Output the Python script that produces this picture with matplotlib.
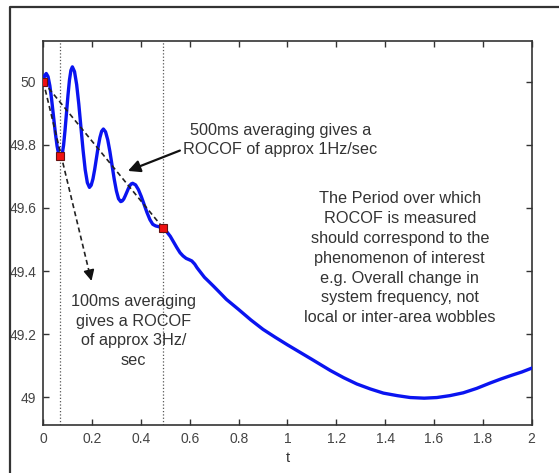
import matplotlib.pyplot as plt
from matplotlib.lines import Line2D

plt.rcParams['font.family'] = ['Liberation Sans', 'DejaVu Sans']

# frequency trace
t = [0.0, 0.006, 0.012, 0.0194, 0.0268, 0.0341, 0.0415, 0.0489, 0.0563,
     0.0636, 0.071, 0.077, 0.083, 0.089, 0.095, 0.101, 0.107, 0.113, 0.119,
     0.1278, 0.1365, 0.1453, 0.154, 0.1628, 0.1715, 0.1803, 0.189, 0.1961,
     0.2033, 0.2104, 0.2175, 0.2246, 0.2318, 0.2389, 0.246, 0.2549, 0.2638,
     0.2726, 0.2815, 0.2904, 0.2993, 0.3081, 0.317, 0.3231, 0.3293, 0.3354,
     0.3415, 0.3476, 0.3538, 0.3599, 0.366, 0.3778, 0.3895, 0.4013, 0.413,
     0.4248, 0.4365, 0.4483, 0.46, 0.475, 0.49, 0.505, 0.52, 0.535, 0.547,
     0.56, 0.572, 0.585, 0.597, 0.608, 0.62, 0.63, 0.645, 0.66, 0.68, 0.697,
     0.725, 0.75, 0.775, 0.80, 0.85, 0.90, 0.95, 1.0, 1.05, 1.1, 1.175, 1.23,
     1.284, 1.34, 1.393, 1.45, 1.503, 1.56, 1.612, 1.665, 1.72, 1.775, 1.83,
     1.875, 1.92, 1.96, 2.0]
freq = [50.005, 50.02, 50.026, 50.016, 49.987, 49.943, 49.8915, 49.84,
        49.796, 49.767, 49.757, 49.768, 49.799, 49.847, 49.902, 49.957,
        50.005, 50.036, 50.047, 50.032, 49.991, 49.929, 49.856, 49.783,
        49.721, 49.68, 49.665, 49.672, 49.692, 49.722, 49.7575, 49.793,
        49.823, 49.843, 49.85, 49.841, 49.816, 49.779, 49.735, 49.691,
        49.654, 49.629, 49.62, 49.622, 49.628, 49.638, 49.649, 49.66, 49.67,
        49.676, 49.678, 49.673, 49.658, 49.636, 49.6105, 49.585, 49.563,
        49.548, 49.543, 49.54, 49.536, 49.525, 49.51, 49.49, 49.474, 49.458,
        49.448, 49.44, 49.436, 49.432, 49.422, 49.41, 49.395, 49.38, 49.365,
        49.352, 49.33, 49.31, 49.294, 49.278, 49.245, 49.215, 49.19, 49.166,
        49.143, 49.12, 49.085, 49.062, 49.042, 49.026, 49.013, 49.005, 48.999,
        48.997, 48.999, 49.005, 49.014, 49.028, 49.045, 49.058, 49.07, 49.08,
        49.092]

# averaging points (t, f)
mark_t = [0.0, 0.07, 0.49]
mark_f = [50.0, 49.765, 49.537]

xticks = [0, 0.2, 0.4, 0.6, 0.8, 1, 1.2, 1.4, 1.6, 1.8, 2]
xticklabels = ['0', '0.2', '0.4', '0.6', '0.8', '1', '1.2', '1.4', '1.6', '1.8', '2']
yticks = [49, 49.2, 49.4, 49.6, 49.8, 50]
yticklabels = ['49', '49.2', '49.4', '49.6', '49.8', '50']

fig = plt.figure(figsize=(5.59, 4.73), dpi=100)
ax = fig.add_axes([0.0775, 0.1015, 0.8735, 0.8125])

# outer frame of the original figure
fig.add_artist(Line2D([0.018, 0.018, 1.0], [0.0, 0.985, 0.985],
                      transform=fig.transFigure, color='#333333', lw=1.6))

ax.plot(t, freq, color='#0a14f0', lw=2.4, zorder=3)

for xv in mark_t[1:]:
    ax.axvline(xv, color='#555555', ls=':', lw=0.9, zorder=1)

# 500ms secant
ax.plot([mark_t[0], mark_t[2]], [mark_f[0], mark_f[2]], color='#222222',
        ls='--', lw=1.2, dashes=(3, 2), zorder=4)
# 100ms secant, extended to an arrow
ax.plot([0.0, 0.19], [50.0, 49.39], color='#222222', ls='--', lw=1.2,
        dashes=(3, 2), zorder=4)
ax.annotate('', xy=(0.2, 49.36), xytext=(0.19, 49.392),
            arrowprops=dict(arrowstyle='-|>', color='#111111', lw=1.2,
                            mutation_scale=16), zorder=4)

ax.plot(mark_t, mark_f, 's', ms=6, mfc='#ee1111', mec='#661111', mew=0.8,
        zorder=5)

ax.annotate('', xy=(0.336, 49.714), xytext=(0.57, 49.785),
            arrowprops=dict(arrowstyle='-|>', color='#111111', lw=1.6,
                            mutation_scale=18))

tc = '#333333'
fs = 11.7
ls = 1.4
ax.text(0.97, 49.815, '500ms averaging gives a\nROCOF of approx 1Hz/sec',
        ha='center', va='center', fontsize=fs, color=tc, linespacing=ls)
ax.text(1.46, 49.44, 'The Period over which\nROCOF is measured\n'
        'should correspond to the\nphenomenon of interest\n'
        'e.g. Overall change in\nsystem frequency, not\n'
        'local or inter-area wobbles',
        ha='center', va='center', fontsize=fs, color=tc, linespacing=ls)
ax.text(0.37, 49.21, '100ms averaging\ngives a ROCOF\nof approx 3Hz/\nsec',
        ha='center', va='center', fontsize=fs, color=tc, linespacing=ls)

ax.set_xlim(0, 2)
ax.set_ylim(48.912, 50.13)
ax.set_xticks(xticks)
ax.set_xticklabels(xticklabels)
ax.set_yticks(yticks)
ax.set_yticklabels(yticklabels)
ax.set_xlabel('t', fontsize=10.5, color=tc, labelpad=4)

ax.tick_params(direction='in', length=4, width=1, top=True, right=True,
               labelsize=10, labelcolor='#444444', color='#333333', pad=5)
for s in ax.spines.values():
    s.set_color('#333333')
    s.set_linewidth(1.2)

fig.savefig('out.png', dpi=100)
